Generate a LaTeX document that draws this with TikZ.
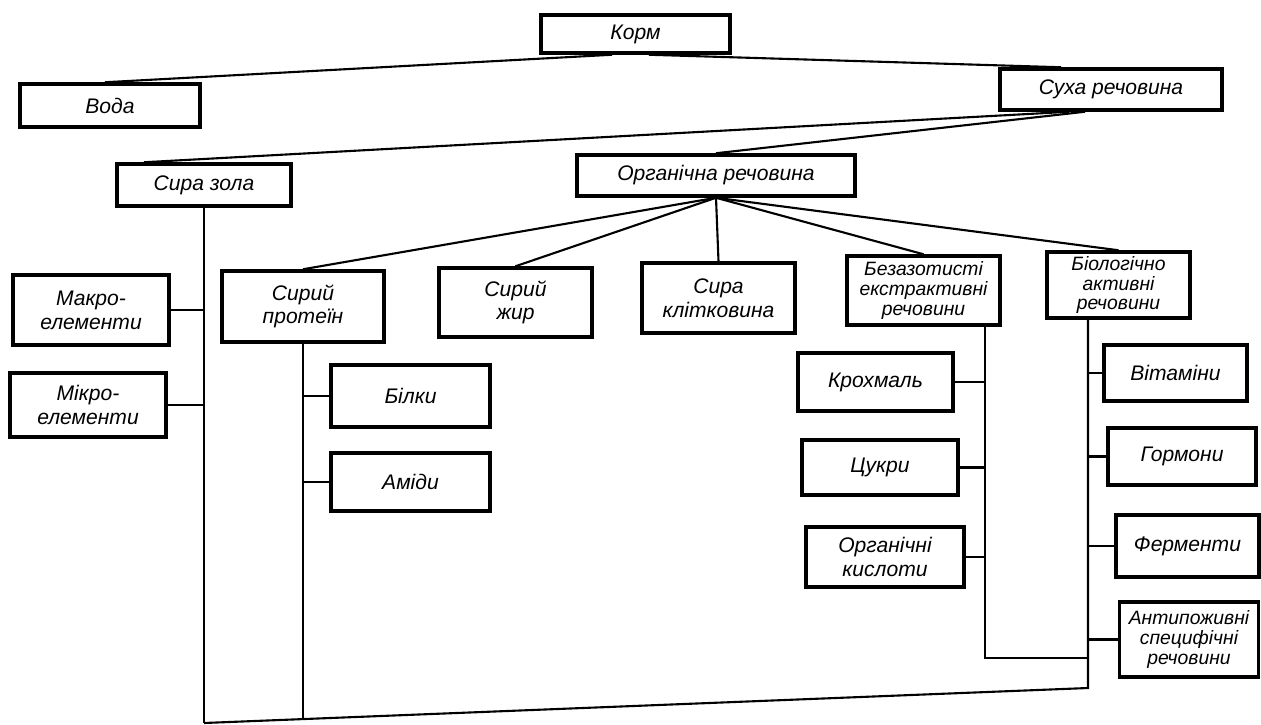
\documentclass[tikz,border=0pt]{standalone}
\usepackage{fontspec}
\setmainfont{Liberation Sans}
\tikzstyle{box}=[draw, line width=2pt, rectangle, inner sep=0pt, align=center,
  font={\fontsize{12}{13.5}\selectfont\itshape}]
\tikzstyle{tight}=[font={\fontsize{11}{11.2}\selectfont\itshape}]
\tikzstyle{link}=[line width=1.2pt]

\begin{document}
\begin{tikzpicture}[x=0.02cm, y=-0.02cm]
	\useasboundingbox (0,0) rectangle (1261,724);
	% top levels
	\node[box, minimum width=3.78cm, minimum height=0.76cm] (korm) at (635.5,34) {Корм};
	\node[box, minimum width=3.6cm, minimum height=0.86cm] (voda) at (110,105.5) {Вода};
	\node[box, minimum width=4.44cm, minimum height=0.82cm] (sukha) at (1111,89.5) {Суха речовина};
	\node[box, minimum width=3.48cm, minimum height=0.84cm] (zola) at (204,185) {Сира зола};
	\node[box, minimum width=5.56cm, minimum height=0.82cm] (organ) at (716,175.5) {Органічна речовина};
	% ash
	\node[box, minimum width=3.12cm, minimum height=1.4cm] (makro) at (91,310) {Макро-\\елементи};
	\node[box, minimum width=3.12cm, minimum height=1.28cm] (mikro) at (88,405) {Мікро-\\елементи};
	% organic matter
	\node[box, minimum width=3.24cm, minimum height=1.42cm] (protein) at (303,306.5) {Сирий\\протеїн};
	\node[box, minimum width=3.06cm, minimum height=1.38cm] (zhyr) at (515.5,302.5) {Сирий\\жир};
	\node[box, minimum width=3.06cm, minimum height=1.4cm] (klitk) at (718.5,298) {Сира\\клітковина};
	\node[box, tight, minimum width=3.06cm, minimum height=1.38cm] (bez) at (923.5,290.5) {Безазотисті\\екстрактивні\\речовини};
	\node[box, tight, minimum width=2.86cm, minimum height=1.32cm] (bio) at (1118.5,285) {Біологічно\\активні\\речовини};
	% protein parts
	\node[box, minimum width=3.18cm, minimum height=1.24cm] (bilky) at (410.5,396) {Білки};
	\node[box, minimum width=3.18cm, minimum height=1.16cm] (amidy) at (410.5,482) {Аміди};
	% nitrogen-free extract
	\node[box, minimum width=3.1cm, minimum height=1.16cm] (krokh) at (875.5,382) {Крохмаль};
	\node[box, minimum width=3.12cm, minimum height=1.1cm] (tsukry) at (880,467.5) {Цукри};
	\node[box, minimum width=3.16cm, minimum height=1.2cm] (kysl) at (885,557) {Органічні\\кислоти};
	% active substances
	\node[box, minimum width=2.86cm, minimum height=1.12cm] (vitam) at (1175.5,373) {Вітаміни};
	\node[box, minimum width=2.96cm, minimum height=1.14cm] (hormon) at (1182,456.5) {Гормони};
	\node[box, minimum width=2.86cm, minimum height=1.24cm] (ferm) at (1187.5,546) {Ферменти};
	\node[box, tight, minimum width=2.78cm, minimum height=1.5cm] (anty) at (1189,639.5) {Антипоживні\\специфічні\\речовини};

	% trunk ends
	\coordinate (zb) at (204,723);
	\coordinate (pb) at (303,719);
	\coordinate (eb) at (985,658);
	\coordinate (bb) at (1088,688);

	\draw[link] ([xshift=-0.47cm]korm.south) -- ([xshift=-0.1cm]voda.north);
	\draw[link] ([xshift=0.27cm]korm.south) -- ([xshift=-1cm]sukha.north);
	\draw[link] ([xshift=-0.84cm]sukha.south) -- ([xshift=-1.2cm]zola.north);
	\draw[link] ([xshift=-0.52cm]sukha.south) -- (organ.north);
	\draw[link] (organ.south) -- (protein.north);
	\draw[link] (organ.south) -- (zhyr.north);
	\draw[link] (organ.south) -- (klitk.north);
	\draw[link] (organ.south) -- (bez.north);
	\draw[link] (organ.south) -- (bio.north);

	\draw[link] (zola.south) -- (zb);
	\draw[link] (makro.east) -- (makro.east -| zb);
	\draw[link] (mikro.east) -- (mikro.east -| zb);
	\draw[link] (protein.south) -- (pb);
	\draw[link] (bilky.west) -- (bilky.west -| pb);
	\draw[link] (amidy.west) -- (amidy.west -| pb);
	\draw[link] (bez.south -| eb) -- (eb) -- (eb -| bb);
	\draw[link] (krokh.east) -- (krokh.east -| eb);
	\draw[link] (tsukry.east) -- (tsukry.east -| eb);
	\draw[link] (kysl.east) -- (kysl.east -| eb);
	\draw[link] (bio.south -| bb) -- (bb) -- (zb);
	\draw[link] (vitam.west) -- (vitam.west -| bb);
	\draw[link] (hormon.west) -- (hormon.west -| bb);
	\draw[link] (ferm.west) -- (ferm.west -| bb);
	\draw[link] (anty.west) -- (anty.west -| bb);
\end{tikzpicture}
\end{document}
